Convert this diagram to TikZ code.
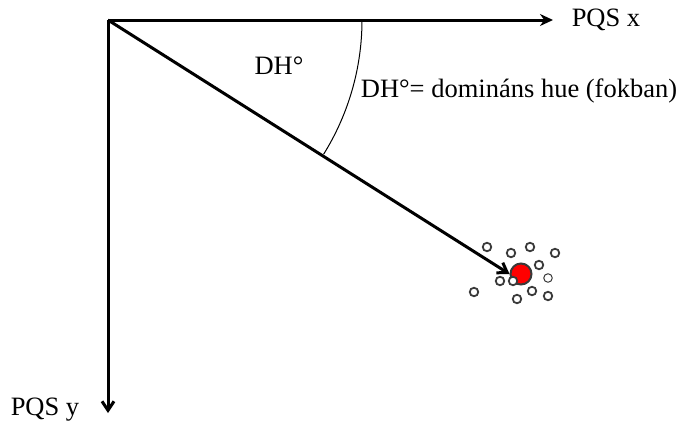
\documentclass[tikz,border=0pt]{standalone}
\usepackage{fontspec}
\setmainfont{Liberation Serif}
\usetikzlibrary{arrows.meta,positioning,calc}
\definecolor{hueRed}{HTML}{FF0000}
\definecolor{ringGray}{HTML}{3A3A3A}

\begin{document}
\begin{tikzpicture}[
    x=1pt,y=-1pt,
    every node/.style={font=\fontsize{26.5}{30}\selectfont,inner sep=0pt},
    axis/.style={line width=3pt,black},
    ring/.style={circle,draw=ringGray,line width=1.8pt,minimum size=8.5pt,inner sep=0pt,fill=white},
    dot/.style={circle,draw=ringGray,line width=2pt,fill=hueRed,minimum size=21pt,inner sep=0pt}
  ]
  \useasboundingbox (0,0) rectangle (681,423);
  \coordinate (O) at (108,20);
  \coordinate (Xend) at (553,20);
  \coordinate (Yend) at (108,413);
  \node[dot] (hue) at (521,274) {};

  \draw[axis,-{Stealth[length=13pt,width=12pt]}] (O) -- (Xend);
  \draw[axis,-{Straight Barb[length=9pt,width=12pt]}] (O) -- (Yend);
  \draw[axis,-{Straight Barb[length=9pt,width=12pt]}] (O) -- (hue.west);

  % dominant hue angle
  \draw[line width=1pt] (O) ++(254,0) arc[start angle=0,end angle=31.9,radius=254];

  \node (PQSx) at (606,20) {PQS x};
  \node (PQSy) at (45,410) {PQS y};
  \node (DH) at (279,66) {DH°};
  \node (DHlab) at (519,91) {DH°= domináns hue (fokban)};

  % surrounding samples
  \foreach \px/\py in {487/247,511/253,530/247,555/253,539/265,500/281,
                       513/281,474/292,532/291,548/296,517/299}
    \node[ring] at (\px,\py) {};
  \node[ring,line width=1pt] at (548,278) {};
\end{tikzpicture}
\end{document}
